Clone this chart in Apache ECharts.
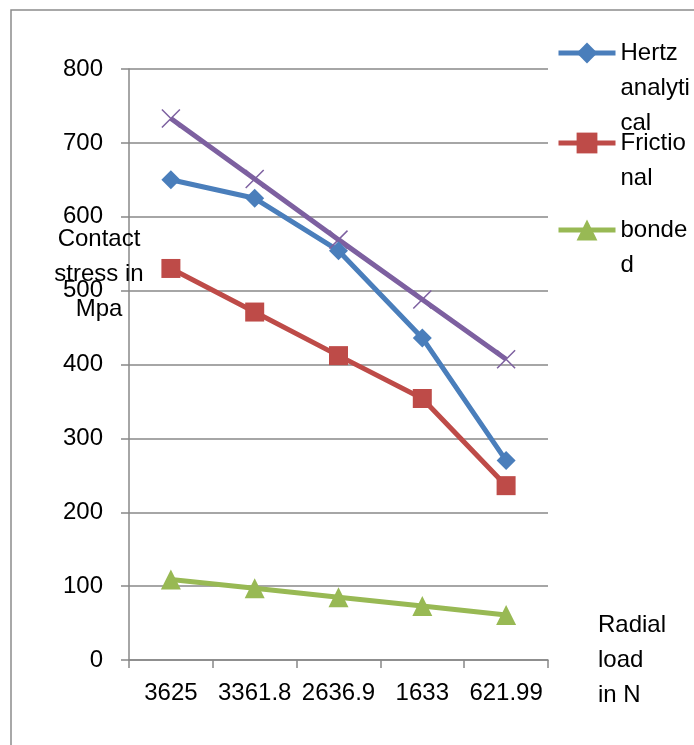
<!DOCTYPE html>
<html>
<head>
<meta charset="utf-8">
<script src="https://cdn.jsdelivr.net/npm/echarts@6/dist/echarts.min.js"></script>
<style>
html,body{margin:0;padding:0;background:#fff;}
#c{width:694px;height:745px;}
</style>
</head>
<body>
<div id="c"></div>
<script>
// ---- data ----
const categories = ['3625', '3361.8', '2636.9', '1633', '621.99'];
const hertzAnalytical = [650, 625, 554, 436, 270];
const frictional = [530, 471, 412, 354, 236];
const bonded = [109, 97, 85, 73, 61];
const unnamedSeries = [733, 651, 569, 488, 407];
const yTicks = [0, 100, 200, 300, 400, 500, 600, 700, 800];
const seriesNames = ['Hertz analytical', 'Frictional', 'bonded'];
const legendLines = {
  'Hertz analytical': ['Hertz', 'analyti', 'cal'],
  'Frictional': ['Frictio', 'nal'],
  'bonded': ['bonde', 'd']
};
const yAxisTitle = ['Contact', 'stress in', 'Mpa'];
const xAxisTitle = ['Radial', 'load', 'in N'];

const FONT = 'Liberation Sans';
const FS = 24;
const LH = 35;
const gridColor = '#888888';

const chart = echarts.init(document.getElementById('c'));

function legendFor(name, centerY) {
  const lines = legendLines[name];
  const n = lines.length;
  const h = (2 * n - 1) * LH;
  const blank = new Array(n - 1).fill('');
  return {
    data: [name],
    left: 556,
    top: centerY - h / 2,
    padding: 0,
    itemWidth: 57,
    itemHeight: 26,
    itemGap: 0,
    lineStyle: { width: 5 },
    formatter: (nm) => blank.concat(legendLines[nm]).join('\n'),
    textStyle: {
      fontFamily: FONT, fontSize: FS, color: '#000', lineHeight: LH
    }
  };
}

const option = {
  animation: false,
  backgroundColor: '#fff',
  grid: { left: 129, right: 146, top: 69, bottom: 85, containLabel: false },
  legend: [
    legendFor('Hertz analytical', 53),
    legendFor('Frictional', 143),
    legendFor('bonded', 230)
  ],
  xAxis: {
    type: 'category',
    data: categories,
    boundaryGap: true,
    name: xAxisTitle.join('\n'),
    nameLocation: 'end',
    nameGap: 50,
    nameTextStyle: {
      fontFamily: FONT, fontSize: FS, color: '#000', lineHeight: LH,
      align: 'left', verticalAlign: 'middle'
    },
    axisLine: { show: true, lineStyle: { color: gridColor, width: 1.5 } },
    axisTick: { show: true, length: 8, alignWithLabel: false, lineStyle: { color: gridColor, width: 1.5 } },
    axisLabel: { fontFamily: FONT, fontSize: FS, color: '#000', margin: 21, interval: 0 }
  },
  yAxis: {
    type: 'value',
    min: yTicks[0],
    max: yTicks[yTicks.length - 1],
    interval: yTicks[1] - yTicks[0],
    axisLine: { show: true, lineStyle: { color: gridColor, width: 1.5 } },
    axisTick: { show: true, length: 8, inside: false, lineStyle: { color: gridColor, width: 1.5 } },
    splitLine: { show: true, lineStyle: { color: gridColor, width: 1.5 } },
    axisLabel: { fontFamily: FONT, fontSize: FS, color: '#000', margin: 26 }
  },
  graphic: [
    {
      type: 'polyline',
      shape: { points: [[11, 745], [11, 10], [694, 10]] },
      style: { stroke: '#8c8c8c', lineWidth: 1.5, fill: null },
      silent: true
    },
    {
      type: 'text',
      x: 99, y: 274,
      style: {
        text: yAxisTitle.join('\n'),
        align: 'center', verticalAlign: 'middle',
        font: FS + 'px "' + FONT + '"',
        lineHeight: LH,
        fill: '#000'
      },
      z: 100
    }
  ],
  series: [
    {
      name: seriesNames[0], type: 'line', data: hertzAnalytical,
      symbol: 'diamond', symbolSize: 19,
      lineStyle: { color: '#4A7EBB', width: 5 },
      itemStyle: { color: '#4A7EBB' }
    },
    {
      name: seriesNames[1], type: 'line', data: frictional,
      symbol: 'rect', symbolSize: 19,
      lineStyle: { color: '#BE4B48', width: 5 },
      itemStyle: { color: '#BE4B48' }
    },
    {
      name: seriesNames[2], type: 'line', data: bonded,
      symbol: 'triangle', symbolSize: 20,
      lineStyle: { color: '#98B954', width: 5 },
      itemStyle: { color: '#98B954' }
    },
    {
      name: 'series4', type: 'line', data: unnamedSeries,
      symbol: 'path://M0,0L10,10M10,0L0,10', symbolSize: 18,
      lineStyle: { color: '#7D60A0', width: 5 },
      itemStyle: { color: '#7D60A0', borderColor: '#7D60A0', borderWidth: 1.5 }
    }
  ]
};
chart.setOption(option);
</script>
</body>
</html>
